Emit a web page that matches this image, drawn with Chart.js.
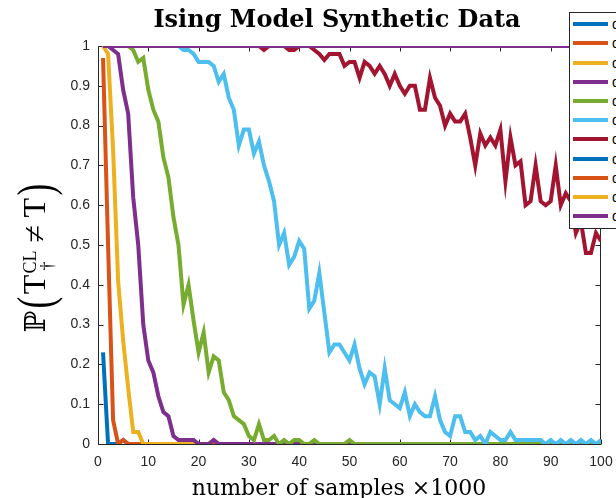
<!DOCTYPE html>
<html>
<head>
<meta charset="utf-8">
<script src="https://cdn.jsdelivr.net/npm/chart.js@4.4.1/dist/chart.umd.min.js"></script>
<style>
  html, body { margin: 0; padding: 0; background: #fff; }
  #wrap { position: relative; width: 616px; height: 498px; overflow: hidden; }
  #chart { position: absolute; left: 0; top: 0; }
  .title { position: absolute; left: 137px; top: 7px; width: 400px; text-align: center;
           font: bold 24px/24px 'DejaVu Serif', serif; color: #000; white-space: nowrap; }
  .xlabel { position: absolute; left: 139px; top: 477px; width: 400px; text-align: center;
            font: 22px/22px 'DejaVu Serif', serif; color: #000; white-space: nowrap; }
  .ylabel { position: absolute; left: -66px; top: 237px; width: 200px; height: 40px;
            transform: rotate(-90deg); text-align: center; white-space: nowrap;
            font: 32px/40px 'Liberation Serif', serif; color: #000; }
  .ylabel .bb { font-family: 'DejaVu Serif', serif; font-size: 29px; }
  .ylabel .paren { display: inline-block; font-size: 32px; line-height: 40px; transform: scale(1.1, 1.6);
                   margin: 0 3px; }
  .ylabel .ss { display: inline-block; position: relative; width: 24px; height: 1px; }
  .ylabel .ss span { position: absolute; font-size: 18px; line-height: 18px; }
  .ylabel .sup { left: 1px; bottom: 6px; }
  .ylabel .sub { left: 4px; top: -6px; }
  #legend { position: absolute; left: 569px; top: 12px; width: 130px; height: 217px;
            box-sizing: border-box; border: 1px solid #262626; background: #fff; padding-top: 1.7px; }
  #legend .row { height: 19.2px; display: flex; align-items: center; }
  #legend .sw { width: 35px; height: 4px; margin-left: 3px; flex: none; }
  #legend .lab { margin-left: 4px; font: 14px 'Liberation Sans', sans-serif; color: #000; white-space: nowrap; }
</style>
</head>
<body>
<div id="wrap">
  <canvas id="chart" width="616" height="498"></canvas>
  <div class="title">Ising Model Synthetic Data</div>
  <div class="xlabel">number of samples ×1000</div>
  <div class="ylabel"><span class="bb">ℙ</span><span class="paren">(</span>T<span class="ss"><span class="sup">CL</span><span class="sub">†</span></span> ≠ T<span class="paren">)</span></div>
  <div id="legend"></div>
</div>
<script>
// number of samples (x1000)
const samples = [
  1, 2, 3, 4, 5, 6, 7, 8, 9, 10,
  11, 12, 13, 14, 15, 16, 17, 18, 19, 20,
  21, 22, 23, 24, 25, 26, 27, 28, 29, 30,
  31, 32, 33, 34, 35, 36, 37, 38, 39, 40,
  41, 42, 43, 44, 45, 46, 47, 48, 49, 50,
  51, 52, 53, 54, 55, 56, 57, 58, 59, 60,
  61, 62, 63, 64, 65, 66, 67, 68, 69, 70,
  71, 72, 73, 74, 75, 76, 77, 78, 79, 80,
  81, 82, 83, 84, 85, 86, 87, 88, 89, 90,
  91, 92, 93, 94, 95, 96, 97, 98, 99, 100
];

const xTicks = [0, 10, 20, 30, 40, 50, 60, 70, 80, 90, 100];
const yTicks = [0, 0.1, 0.2, 0.3, 0.4, 0.5, 0.6, 0.7, 0.8, 0.9, 1];
const yTickLabels = ['0', '0.1', '0.2', '0.3', '0.4', '0.5', '0.6', '0.7', '0.8', '0.9', '1'];

const seriesNames = ['q = 0', 'q = 0.05', 'q = 0.1', 'q = 0.15', 'q = 0.2', 'q = 0.25',
                     'q = 0.3', 'q = 0.35', 'q = 0.4', 'q = 0.45', 'q = 0.5'];
const seriesColors = ['#0072BD', '#D95319', '#EDB120', '#7E2F8E', '#77AC30', '#4DBEEE',
                      '#A2142F', '#0072BD', '#D95319', '#EDB120', '#7E2F8E'];

const errQ0 = [
  0.23, 0, 0, 0, 0.01, 0, 0, 0, 0, 0,
  0, 0, 0, 0, 0, 0, 0, 0, 0, 0,
  0, 0, 0, 0, 0, 0, 0, 0, 0, 0,
  0, 0, 0, 0, 0, 0, 0, 0, 0, 0,
  0, 0, 0, 0, 0, 0, 0, 0, 0, 0,
  0, 0, 0, 0, 0, 0, 0, 0, 0, 0,
  0, 0, 0, 0, 0, 0, 0, 0, 0, 0,
  0, 0, 0, 0, 0, 0, 0, 0, 0, 0,
  0, 0, 0, 0, 0, 0, 0, 0, 0, 0,
  0, 0, 0, 0, 0, 0, 0, 0, 0, 0
];
const errQ1 = [
  0.97, 0.5, 0.06, 0, 0.01, 0, 0, 0, 0, 0,
  0, 0, 0, 0, 0, 0, 0, 0, 0, 0,
  0, 0, 0, 0, 0, 0, 0, 0, 0, 0,
  0, 0, 0, 0, 0, 0, 0, 0, 0, 0,
  0, 0, 0, 0, 0, 0, 0, 0, 0, 0,
  0, 0, 0, 0, 0, 0, 0, 0, 0, 0,
  0, 0, 0, 0, 0, 0, 0, 0, 0, 0,
  0, 0, 0, 0, 0, 0, 0, 0, 0, 0,
  0, 0, 0, 0, 0, 0, 0, 0, 0, 0,
  0, 0, 0, 0, 0, 0, 0, 0, 0, 0
];
const errQ2 = [
  1, 0.98, 0.74, 0.41, 0.26, 0.14, 0.03, 0.03, 0, 0,
  0, 0, 0, 0, 0, 0, 0, 0, 0, 0,
  0, 0, 0.01, 0, 0, 0, 0, 0, 0, 0,
  0, 0, 0, 0, 0, 0, 0, 0, 0, 0,
  0, 0, 0, 0, 0, 0, 0, 0, 0, 0,
  0, 0, 0, 0, 0, 0, 0, 0, 0, 0,
  0, 0, 0, 0, 0, 0, 0, 0, 0, 0,
  0, 0, 0, 0, 0, 0, 0, 0, 0, 0,
  0, 0, 0, 0, 0, 0, 0, 0, 0, 0,
  0, 0, 0, 0, 0, 0, 0, 0, 0, 0
];
const errQ3 = [
  1, 1, 0.99, 0.98, 0.89, 0.83, 0.62, 0.5, 0.3, 0.21,
  0.18, 0.12, 0.08, 0.07, 0.02, 0.01, 0.01, 0.01, 0.01, 0,
  0, 0, 0.01, 0, 0, 0, 0, 0, 0, 0,
  0, 0, 0, 0, 0, 0, 0, 0, 0, 0,
  0, 0, 0, 0, 0, 0, 0, 0, 0, 0,
  0, 0, 0, 0, 0, 0, 0, 0, 0, 0,
  0, 0, 0, 0, 0, 0, 0, 0, 0, 0,
  0, 0, 0, 0, 0, 0, 0, 0, 0, 0,
  0, 0, 0, 0, 0, 0, 0, 0, 0, 0,
  0, 0, 0, 0, 0, 0, 0, 0, 0, 0
];
const errQ4 = [
  1, 1, 1, 1, 1, 1, 0.99, 0.96, 0.97, 0.89,
  0.84, 0.81, 0.72, 0.67, 0.57, 0.5, 0.35, 0.4, 0.31, 0.23,
  0.28, 0.18, 0.22, 0.21, 0.13, 0.11, 0.07, 0.06, 0.05, 0.02,
  0.01, 0.05, 0.01, 0.01, 0.02, 0, 0.01, 0, 0.01, 0.01,
  0, 0, 0.01, 0, 0, 0, 0, 0, 0, 0.01,
  0, 0, 0, 0, 0, 0, 0, 0, 0, 0,
  0, 0, 0, 0, 0, 0, 0, 0, 0, 0,
  0, 0, 0, 0, 0, 0, 0, 0, 0, 0,
  0, 0, 0, 0, 0, 0, 0, 0, 0, 0,
  0, 0, 0, 0, 0, 0, 0, 0, 0, 0
];
const errQ5 = [
  1, 1, 1, 1, 1, 1, 1, 1, 1, 1,
  1, 1, 1, 1, 1, 1, 0.99, 0.99, 0.98, 0.96,
  0.96, 0.96, 0.95, 0.91, 0.93, 0.87, 0.84, 0.75, 0.79, 0.79,
  0.73, 0.76, 0.7, 0.66, 0.61, 0.5, 0.53, 0.45, 0.47, 0.51,
  0.49, 0.34, 0.36, 0.43, 0.33, 0.23, 0.25, 0.25, 0.23, 0.21,
  0.25, 0.19, 0.15, 0.18, 0.17, 0.1, 0.19, 0.11, 0.1, 0.09,
  0.13, 0.07, 0.1, 0.08, 0.07, 0.07, 0.12, 0.06, 0.03, 0.02,
  0.07, 0.07, 0.03, 0.03, 0.01, 0.02, 0, 0.03, 0.02, 0.01,
  0.01, 0.03, 0.01, 0.01, 0.01, 0.01, 0.01, 0.01, 0, 0.01,
  0, 0.01, 0, 0.01, 0, 0.01, 0, 0.01, 0, 0.01
];
const errQ6 = [
  1, 1, 1, 1, 1, 1, 1, 1, 1, 1,
  1, 1, 1, 1, 1, 1, 1, 1, 1, 1,
  1, 1, 1, 1, 1, 1, 1, 1, 1, 1,
  1, 1, 0.99, 1, 1, 1, 1, 0.99, 0.99, 1,
  1, 1, 0.99, 0.98, 0.965, 0.98, 0.98, 0.98, 0.95, 0.96,
  0.96, 0.92, 0.96, 0.95, 0.93, 0.95, 0.93, 0.9, 0.93, 0.9,
  0.88, 0.9, 0.9, 0.84, 0.84, 0.92, 0.87, 0.85, 0.8, 0.83,
  0.81, 0.81, 0.83, 0.77, 0.7, 0.78, 0.75, 0.77, 0.75, 0.79,
  0.66, 0.77, 0.7, 0.71, 0.6, 0.61, 0.7, 0.61, 0.6, 0.61,
  0.7, 0.6, 0.63, 0.61, 0.53, 0.56, 0.48, 0.48, 0.53, 0.51
];
// the four noisiest settings never recover the tree
const errSaturated = [
  1, 1, 1, 1, 1, 1, 1, 1, 1, 1,
  1, 1, 1, 1, 1, 1, 1, 1, 1, 1,
  1, 1, 1, 1, 1, 1, 1, 1, 1, 1,
  1, 1, 1, 1, 1, 1, 1, 1, 1, 1,
  1, 1, 1, 1, 1, 1, 1, 1, 1, 1,
  1, 1, 1, 1, 1, 1, 1, 1, 1, 1,
  1, 1, 1, 1, 1, 1, 1, 1, 1, 1,
  1, 1, 1, 1, 1, 1, 1, 1, 1, 1,
  1, 1, 1, 1, 1, 1, 1, 1, 1, 1,
  1, 1, 1, 1, 1, 1, 1, 1, 1, 1
];

const seriesValues = [errQ0, errQ1, errQ2, errQ3, errQ4, errQ5, errQ6,
                      errSaturated, errSaturated, errSaturated, errSaturated];

const tickColor = '#262626';
const tickFont = { family: "'Liberation Sans', Arial, sans-serif", size: 14 };

// matlab style box: axis lines on all four sides, ticks pointing inwards
const axisBox = {
  id: 'axisBox',
  beforeDatasetsDraw(chart) {
    const { ctx, chartArea: a, scales: { x, y } } = chart;
    const l = Math.round(a.left) + 0.5, r = Math.round(a.right) - 0.5;
    const t = Math.round(a.top) + 0.5, b = Math.round(a.bottom) + 0.5;
    ctx.save();
    ctx.strokeStyle = tickColor;
    ctx.lineWidth = 1;
    ctx.beginPath();
    ctx.rect(l, t, r - l, b - t);
    x.ticks.forEach(tk => {
      const px = Math.round(x.getPixelForValue(tk.value)) + 0.5;
      ctx.moveTo(px, b); ctx.lineTo(px, b - 5);
      ctx.moveTo(px, t); ctx.lineTo(px, t + 5);
    });
    y.ticks.forEach(tk => {
      const py = Math.round(y.getPixelForValue(tk.value)) + 0.5;
      ctx.moveTo(l, py); ctx.lineTo(l + 5, py);
      ctx.moveTo(r, py); ctx.lineTo(r - 5, py);
    });
    ctx.stroke();
    ctx.restore();
  }
};

const datasets = seriesValues.map((vals, i) => ({
  label: seriesNames[i],
  data: samples.map((s, k) => ({ x: s, y: vals[k] })),
  borderColor: seriesColors[i],
  backgroundColor: seriesColors[i],
  borderWidth: 4,
  pointRadius: 0,
  tension: 0,
  fill: false,
  order: seriesValues.length - i   // later series drawn on top, as in matlab
}));

const chart = new Chart(document.getElementById('chart').getContext('2d'), {
  type: 'line',
  data: { datasets },
  options: {
    responsive: false,
    animation: false,
    events: [],
    layout: { padding: { left: 0, right: 15, top: 46, bottom: 0 } },
    plugins: {
      legend: { display: false },
      title: { display: false },
      tooltip: { enabled: false }
    },
    scales: {
      x: {
        type: 'linear',
        min: 0,
        max: 100,
        afterBuildTicks: s => { s.ticks = xTicks.map(v => ({ value: v })); },
        afterFit: s => { s.height = 54; s.paddingLeft = 0; s.paddingRight = 0; },
        grid: { display: false, drawTicks: false },
        border: { display: false },
        ticks: { color: tickColor, font: tickFont, padding: 10, maxRotation: 0, autoSkip: false }
      },
      y: {
        type: 'linear',
        min: 0,
        max: 1,
        afterBuildTicks: s => { s.ticks = yTicks.map(v => ({ value: v })); },
        afterFit: s => { s.width = 98; s.paddingTop = 0; s.paddingBottom = 0; },
        grid: { display: false, drawTicks: false },
        border: { display: false },
        ticks: { color: tickColor, font: tickFont, padding: 8, autoSkip: false,
                 callback: (v, i) => yTickLabels[i] }
      }
    }
  },
  plugins: [axisBox]
});

// legend box, partly cut off by the right edge like the original figure
const legend = document.getElementById('legend');
chart.data.datasets.forEach(ds => {
  const row = document.createElement('div');
  row.className = 'row';
  const sw = document.createElement('span');
  sw.className = 'sw';
  sw.style.background = ds.borderColor;
  const lab = document.createElement('span');
  lab.className = 'lab';
  lab.textContent = ds.label;
  row.appendChild(sw);
  row.appendChild(lab);
  legend.appendChild(row);
});
</script>
</body>
</html>
